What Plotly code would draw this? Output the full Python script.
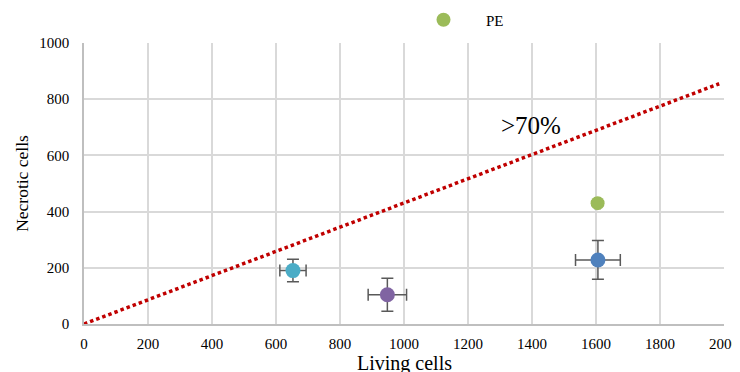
import plotly.graph_objects as go

# data
groups = ["cyan", "purple", "blue", "PE"]
living = [653, 948, 1606, 1605]
necrotic = [190, 104, 228, 430]
living_err = [41, 60, 70, 8]
necrotic_err = [40, 59, 69, 8]
colors = ["#4BACC6", "#8064A2", "#4F81BD", "#9BBB59"]
sizes = [15, 15, 15, 14]

line_x = [0, 1985]
line_y = [0, 855]

x_ticks = [0, 200, 400, 600, 800, 1000, 1200, 1400, 1600, 1800, 2000]
y_ticks = [0, 200, 400, 600, 800, 1000]

x_title = "Living cells"
y_title = "Necrotic cells"
note = ">70%"

font = "'Liberation Serif', 'Times New Roman', serif"

W, H = 732, 364  # page body has an 8px margin

fig = go.Figure()
fig.add_trace(go.Scatter(
    x=line_x, y=line_y, mode="lines",
    line=dict(color="#C00000", width=3.5, dash="3.5px,3px"),
    showlegend=False, hoverinfo="skip"))

for i, g in enumerate(groups):
    fig.add_trace(go.Scatter(
        x=[living[i]], y=[necrotic[i]], mode="markers",
        name=g, showlegend=(g == "PE"),
        marker=dict(color=colors[i], size=sizes[i]),
        error_x=dict(type="data", array=[living_err[i]], color="#595959", thickness=1.5, width=6),
        error_y=dict(type="data", array=[necrotic_err[i]], color="#595959", thickness=1.5, width=6),
    ))

fig.add_annotation(x=1398, y=708, text=note, showarrow=False,
                   font=dict(family=font, size=25, color="#000000"))
fig.add_annotation(xref="paper", yref="paper", x=0.5, y=-0.139, text=x_title,
                   showarrow=False, xanchor="center", yanchor="middle",
                   font=dict(family=font, size=20, color="#000000"))
fig.add_annotation(xref="paper", yref="paper", x=-0.097, y=0.502, text=y_title,
                   showarrow=False, xanchor="center", yanchor="middle", textangle=-90,
                   font=dict(family=font, size=17.5, color="#000000"))

fig.update_layout(
    width=W, height=H,
    margin=dict(l=76, r=16, t=35, b=48, pad=0),
    paper_bgcolor="white", plot_bgcolor="white",
    font=dict(family=font, size=15, color="#000000"),
    legend=dict(orientation="h", xref="container", yref="container",
                x=393 / W, y=1 - 12 / H, xanchor="left", yanchor="middle",
                font=dict(family=font, size=15), itemwidth=75, bgcolor="rgba(0,0,0,0)"),
    xaxis=dict(range=[0, 2000], tickvals=x_ticks, showgrid=True, gridcolor="#D9D9D9", gridwidth=1.5,
               showline=True, linecolor="#BFBFBF", linewidth=1.5, zeroline=False, ticks="",
               automargin=False, ticklabelstandoff=5, ticklabeloverflow="allow",
               tickfont=dict(family=font, size=15)),
    yaxis=dict(range=[0, 1000], tickvals=y_ticks, showgrid=True, gridcolor="#D9D9D9", gridwidth=1.5,
               showline=True, linecolor="#BFBFBF", linewidth=1.5, zeroline=False, ticks="",
               automargin=False, ticklabelstandoff=10, ticklabeloverflow="allow",
               tickfont=dict(family=font, size=15)),
)
fig.write_html("out.html", post_script="document.body.style.overflow='hidden';")
